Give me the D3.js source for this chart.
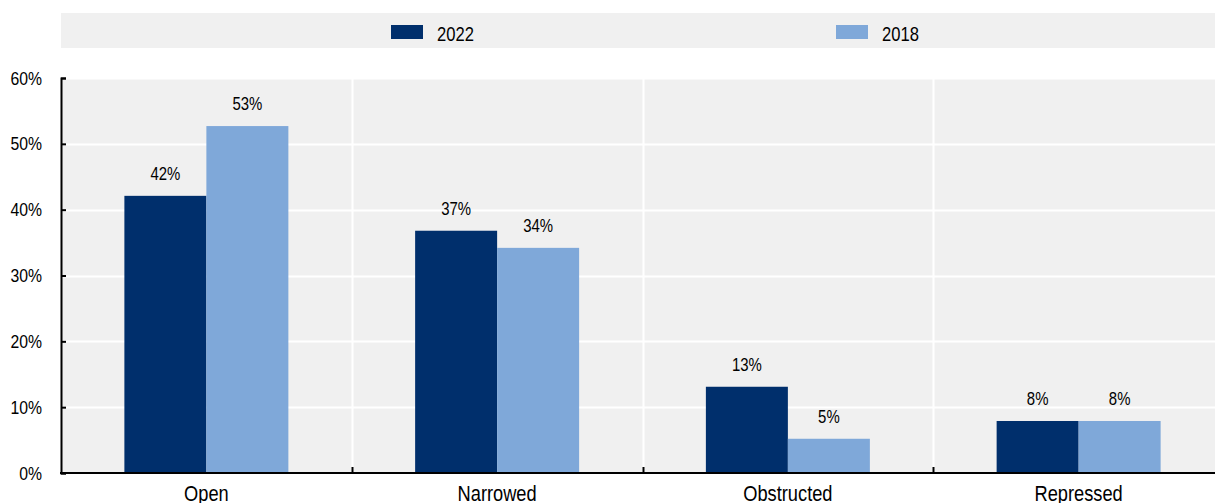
<!DOCTYPE html>
<html>
<head>
<meta charset="utf-8">
<script src="https://cdn.jsdelivr.net/npm/d3@7"></script>
<style>
  html, body { margin: 0; padding: 0; background: #fff; overflow: hidden; }
  svg { display: block; font-family: "Liberation Sans", Arial, sans-serif; }
</style>
</head>
<body>
<svg id="chart" width="1215" height="503"></svg>
<script>
const categories = ["Open", "Narrowed", "Obstructed", "Repressed"];
const seriesNames = ["2022", "2018"];
const values2022 = [42.1, 36.8, 13.1, 7.9];
const values2018 = [52.7, 34.2, 5.2, 7.9];
const labels2022 = ["42%", "37%", "13%", "8%"];
const labels2018 = ["53%", "34%", "5%", "8%"];
const yTicks = [0, 10, 20, 30, 40, 50, 60];
const colors = ["#002F6C", "#7FA8D9"];

const SX = 0.83; // horizontal condensing to mimic a narrow face
const svg = d3.select("#chart");
const m = { left: 61, right: 1224, top: 78, bottom: 473 };

const x = d3.scaleBand().domain(categories).range([m.left, m.right]).paddingInner(0).paddingOuter(0);
const y = d3.scaleLinear().domain([0, 60]).range([m.bottom, m.top]);
const xs = d3.scaleBand().domain(seriesNames).range([0, x.bandwidth()]).paddingInner(0).paddingOuter(0.773);

function ntext(parent, tx, ty, str, size, anchor) {
  return parent.append("text")
    .attr("transform", `translate(${tx},${ty}) scale(${SX},1)`)
    .attr("text-anchor", anchor || "start")
    .attr("font-size", size)
    .attr("fill", "#000")
    .text(str);
}

// legend band
svg.append("rect").attr("x", 61).attr("y", 13).attr("width", 1154).attr("height", 35).attr("fill", "#F0F0F0");
const legendX = [391, 836];
seriesNames.forEach((s, i) => {
  svg.append("rect").attr("x", legendX[i]).attr("y", 25).attr("width", 32).attr("height", 14).attr("fill", colors[i]);
  ntext(svg, legendX[i] + 46, 41, s, 20);
});

// plot background
svg.append("rect").attr("x", m.left).attr("y", m.top).attr("width", m.right - m.left).attr("height", m.bottom - m.top).attr("fill", "#F0F0F0");

// horizontal gridlines
svg.append("g").selectAll("line").data(yTicks.slice(1)).join("line")
  .attr("x1", m.left).attr("x2", m.right)
  .attr("y1", d => Math.round(y(d)) + 0.5).attr("y2", d => Math.round(y(d)) + 0.5)
  .attr("stroke", "#fff").attr("stroke-width", 2);

// vertical gridlines at category boundaries
const bounds = categories.slice(1).map(c => x(c));
svg.append("g").selectAll("line").data(bounds).join("line")
  .attr("x1", d => Math.round(d) + 0.5).attr("x2", d => Math.round(d) + 0.5)
  .attr("y1", m.top).attr("y2", m.bottom)
  .attr("stroke", "#fff").attr("stroke-width", 2);

// bars
const data = categories.map((c, i) => ({ c, vals: [values2022[i], values2018[i]], labs: [labels2022[i], labels2018[i]] }));
const g = svg.append("g");
data.forEach(d => {
  seriesNames.forEach((s, j) => {
    g.append("rect")
      .attr("x", x(d.c) + xs(s))
      .attr("y", y(d.vals[j]))
      .attr("width", xs.bandwidth())
      .attr("height", y(0) - y(d.vals[j]))
      .attr("fill", colors[j]);
    ntext(g, x(d.c) + xs(s) + xs.bandwidth() / 2, y(d.vals[j]) - 16, d.labs[j], 18, "middle");
  });
});

// y axis
const yAxis = d3.axisLeft(y).tickValues(yTicks).tickFormat(d => d + "%").tickSizeInner(-5).tickSizeOuter(-5).tickPadding(19);
const ya = svg.append("g").attr("transform", `translate(${m.left},0)`).call(yAxis);
ya.select(".domain").attr("stroke", "#000").attr("stroke-width", 2);
ya.selectAll(".tick line").attr("stroke", "#000").attr("stroke-width", 2);
ya.selectAll(".tick text")
  .attr("font-size", 19).attr("fill", "#000").attr("font-family", null)
  .attr("x", -19 / SX)
  .attr("transform", `scale(${SX},1)`);

// x axis
const xa = svg.append("g").attr("transform", `translate(0,${m.bottom})`);
xa.append("line").attr("x1", m.left - 1).attr("x2", m.right).attr("y1", 0).attr("y2", 0).attr("stroke", "#000").attr("stroke-width", 2);
xa.selectAll("line.tk").data(bounds).join("line").attr("class", "tk")
  .attr("x1", d => Math.round(d) + 0.5).attr("x2", d => Math.round(d) + 0.5)
  .attr("y1", 0).attr("y2", -6).attr("stroke", "#000").attr("stroke-width", 2);
categories.forEach(c => ntext(xa, x(c) + x.bandwidth() / 2, 28, c, 22, "middle"));
</script>
</body>
</html>
